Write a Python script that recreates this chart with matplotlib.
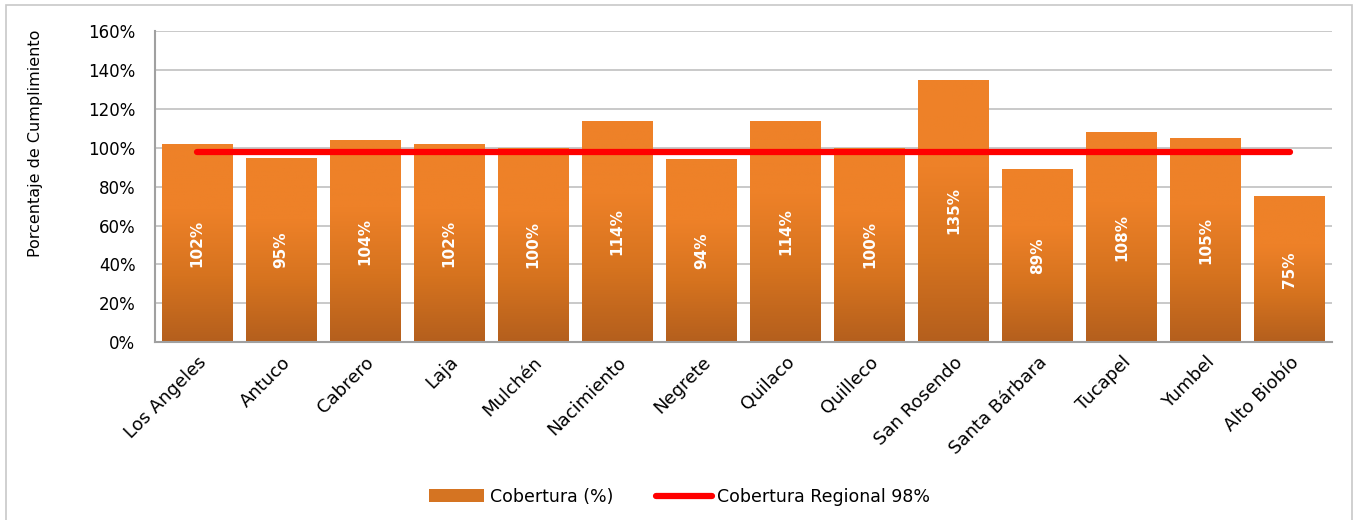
import numpy as np
import matplotlib
matplotlib.use("Agg")
from matplotlib import pyplot as plt
from matplotlib.patches import Rectangle, Patch
from matplotlib.colors import LinearSegmentedColormap

comunas = ["Los Angeles", "Antuco", "Cabrero", "Laja", "Mulchén", "Nacimiento",
           "Negrete", "Quilaco", "Quilleco", "San Rosendo", "Santa Bárbara",
           "Tucapel", "Yumbel", "Alto Biobío"]
cobertura = [102, 95, 104, 102, 100, 114, 94, 114, 100, 135, 89, 108, 105, 75]
regional = 98

plt.rcParams['font.family'] = ['DejaVu Sans']

fig = plt.figure(figsize=(13.59, 5.2), dpi=100)
ax = fig.add_axes([0.114, 0.342, 0.866, 0.598])

# borde exterior del grafico
fig.patches.append(Rectangle((0.0045, -0.05), 0.9905, 1.04, transform=fig.transFigure,
                             fill=False, edgecolor='#C8C8C8', linewidth=1.2))

cmap = LinearSegmentedColormap.from_list('naranjo', ['#B45F1D', '#D6731F', '#EE8128', '#EE8128'])
grad = np.linspace(0, 1, 256).reshape(-1, 1)
x = np.arange(len(comunas))
ancho = 0.84

bars = ax.bar(x, cobertura, width=ancho, color='none', zorder=2)
for b, v in zip(bars, cobertura):
    x0 = b.get_x()
    im = ax.imshow(grad, cmap=cmap, origin='lower', aspect='auto',
                   extent=[x0, x0 + ancho, 0, v], zorder=2)
    im.set_clip_path(b)
    ax.text(x0 + ancho / 2, v / 2, f"{v}%", rotation=90, ha='center', va='center',
            color='white', fontsize=11, fontweight='bold', zorder=4)

ax.plot([x[0], x[-1]], [regional, regional], color='#FF0000', linewidth=4.5,
        solid_capstyle='round', zorder=3)

ax.set_xlim(-0.5, len(comunas) - 0.5)
ax.set_ylim(0, 160)
ax.set_yticks(np.arange(0, 161, 20))
ax.set_yticklabels([f"{t}%" for t in range(0, 161, 20)], fontsize=12)
ax.set_xticks(x)
ax.set_xticklabels(comunas, rotation=45, ha='right', rotation_mode='anchor', fontsize=13)
ax.tick_params(axis='x', length=0, pad=8)
ax.tick_params(axis='y', length=0, pad=14)
ax.yaxis.grid(True, color='#C0C0C0', linewidth=1.2, zorder=0)
ax.set_axisbelow(True)
for s in ['top', 'right']:
    ax.spines[s].set_visible(False)
for s in ['left', 'bottom']:
    ax.spines[s].set_color('#A0A0A0')
    ax.spines[s].set_linewidth(1.5)
ax.set_ylabel("Porcentaje de Cumplimiento", fontsize=11.5)
ax.yaxis.set_label_coords(-0.095, 0.64)

handles = [Patch(facecolor='#D57422', edgecolor='none'),
           plt.Line2D([0], [0], color='#FF0000', linewidth=4.5, solid_capstyle='round')]
fig.legend(handles, ["Cobertura (%)", "Cobertura Regional 98%"], loc='center',
           bbox_to_anchor=(0.5, 0.045), ncol=2, frameon=False, fontsize=12.5,
           handlelength=3.2, columnspacing=2.5, handletextpad=0.3)

fig.savefig("out.png", dpi=100)
